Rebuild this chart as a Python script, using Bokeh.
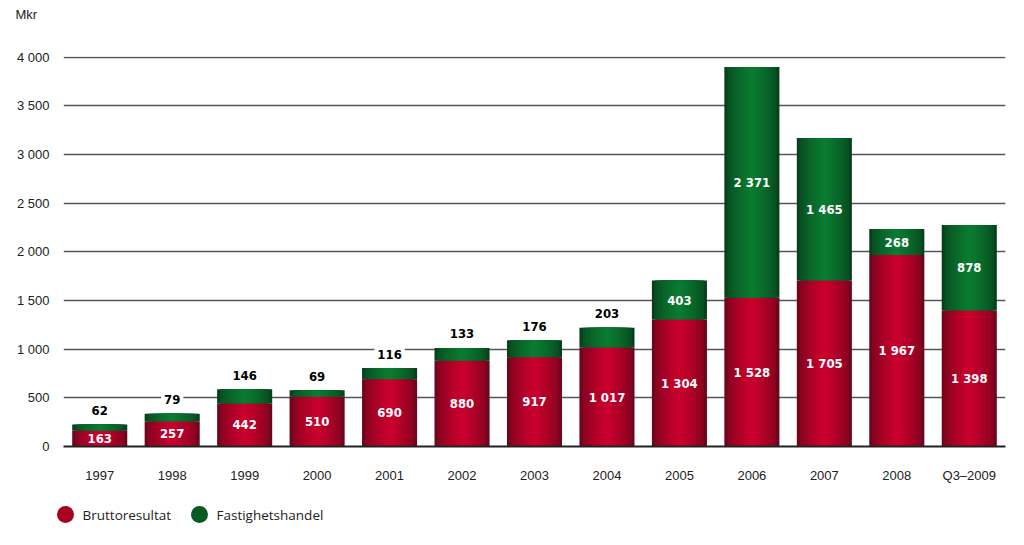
import numpy as np
from bokeh.plotting import figure
from bokeh.layouts import column
from bokeh.models import ColumnDataSource, Range1d, FactorRange
from bokeh.core.properties import value
from bokeh.embed import file_html
from bokeh.resources import INLINE

years = ["1997", "1998", "1999", "2000", "2001", "2002", "2003", "2004", "2005",
         "2006", "2007", "2008", "Q3\u20132009"]
brutto = [163, 257, 442, 510, 690, 880, 917, 1017, 1304, 1528, 1705, 1967, 1398]
fastighet = [62, 79, 146, 69, 116, 133, 176, 203, 403, 2371, 1465, 268, 878]
y_ticks = [0, 500, 1000, 1500, 2000, 2500, 3000, 3500, 4000]
series_names = ["Bruttoresultat", "Fastighetshandel"]
unit_label = "Mkr"

def fmt(v):
    return f"{v:,}".replace(",", " ")

brutto = np.array(brutto)
fastighet = np.array(fastighet)
total = brutto + fastighet

def strip(h):
    f = figure(width=1016, height=h, x_range=Range1d(0, 1016), y_range=Range1d(0, h),
               output_backend="svg", toolbar_location=None, min_border=0)
    f.axis.visible = False
    f.grid.visible = False
    f.outline_line_color = None
    f.frame_align = False
    return f

# top strip with the unit label
top = strip(28)
top.text(x=[15], y=[14], text=[unit_label], text_baseline="middle",
         text_font=value("Liberation Sans"), text_font_size="13px", text_color="#222222")

p = figure(width=1016, height=463, x_range=FactorRange(*years, range_padding=0),
           y_range=Range1d(0, 4008), output_backend="svg", toolbar_location=None,
           min_border_left=63, min_border_right=11, min_border_top=28, min_border_bottom=45)
p.frame_align = False
p.outline_line_color = None
p.background_fill_color = "white"

def mix(c1, c2, t):
    return "#%02x%02x%02x" % tuple(int(round(a + (b - a) * t)) for a, b in zip(c1, c2))

red_edge, red_mid = (0x6e, 0x05, 0x1c), (0xc8, 0x00, 0x2c)
green_edge, green_mid = (0x06, 0x40, 0x1c), (0x0a, 0x7a, 0x30)
nl = 10
widths = np.linspace(0.76, 0.08, nl)

src = ColumnDataSource(dict(x=years, zero=[0] * len(years), b=brutto, t=total))
for i, w in enumerate(widths):
    t = (i / (nl - 1)) ** 0.6
    p.vbar(x="x", bottom="zero", top="b", width=w, source=src,
           fill_color=mix(red_edge, red_mid, t), line_color=None)
    p.vbar(x="x", bottom="b", top="t", width=w, source=src,
           fill_color=mix(green_edge, green_mid, t), line_color=None)

p.xgrid.grid_line_color = None
p.ygrid.grid_line_color = "#555555"
p.ygrid.grid_line_width = 1.3
p.yaxis.ticker = y_ticks
p.yaxis.major_label_overrides = {v: fmt(v) for v in y_ticks}
for ax in (p.xaxis, p.yaxis):
    ax.axis_line_color = None
    ax.major_tick_line_color = None
    ax.minor_tick_line_color = None
    ax.major_label_text_font = "Liberation Sans"
    ax.major_label_text_font_size = "13px"
    ax.major_label_text_color = "#222222"
p.yaxis.major_label_standoff = 8
p.xaxis.major_label_standoff = 15
p.xaxis.axis_line_color = "#222222"
p.xaxis.axis_line_width = 2

lab_font = value("DejaVu Sans Condensed")
inside_src = ColumnDataSource(dict(x=years, y=brutto / 2, txt=[fmt(v) for v in brutto]))
p.text(x="x", y="y", text="txt", source=inside_src, text_align="center", text_baseline="middle",
       text_color="white", text_font=lab_font, text_font_style="bold", text_font_size="13px")

inside_g = fastighet >= 250
gi = ColumnDataSource(dict(x=[y for y, m in zip(years, inside_g) if m],
                           y=(brutto + fastighet / 2)[inside_g],
                           txt=[fmt(v) for v in fastighet[inside_g]]))
p.text(x="x", y="y", text="txt", source=gi, text_align="center", text_baseline="middle",
       text_color="white", text_font=lab_font, text_font_style="bold", text_font_size="13px")

go = ColumnDataSource(dict(x=[y for y, m in zip(years, inside_g) if not m],
                           y=total[~inside_g],
                           txt=[fmt(v) for v in fastighet[~inside_g]]))
p.text(x="x", y="y", text="txt", source=go, text_align="center", text_baseline="middle",
       y_offset=-14, text_color="black", text_font=lab_font, text_font_style="bold",
       text_font_size="13px", background_fill_color="white", padding=3)

# legend strip
lf = strip(54)
leg_src = ColumnDataSource(dict(cx=[65, 199], tx=[82, 216], cy=[31, 31],
                                col=["#a8001f", "#065a22"], name=series_names))
lf.scatter(x="cx", y="cy", size=17, fill_color="col", line_color=None, source=leg_src)
lf.text(x="tx", y="cy", text="name", source=leg_src, text_baseline="middle",
        text_font=value("Open Sans"), text_font_size="13.5px", text_color="#222222")

open("out.html", "w").write(file_html(column(top, p, lf, spacing=0), INLINE))
